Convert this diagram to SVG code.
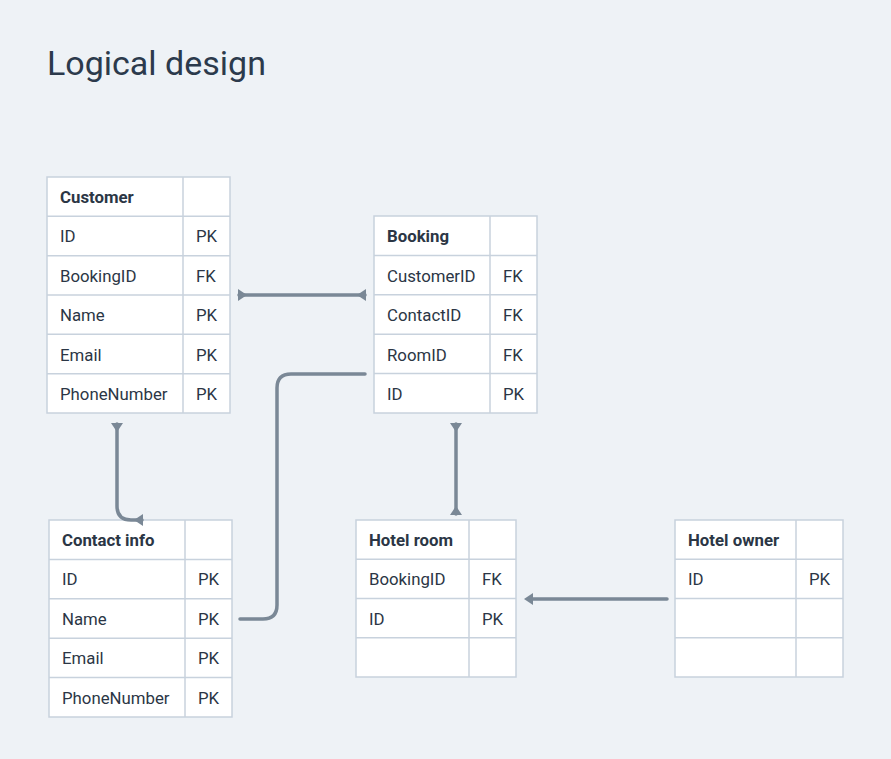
<svg xmlns="http://www.w3.org/2000/svg" width="891" height="759" viewBox="0 0 891 759">
<style>
.bg{fill:#eef2f6}
.tb{fill:#ffffff;stroke:#c8d2dd;stroke-width:1.5}
.ln{stroke:#c8d2dd;stroke-width:1.5}
text{font-family:Roboto,"Liberation Sans",sans-serif;fill:#2b3645;font-size:16.8px}
.h{font-weight:bold}
.title{font-size:34px;fill:#2c3a4c}
.cn{fill:none;stroke:#7a8896;stroke-width:3.5;stroke-linecap:round}
</style>
<defs>
<marker id="tee" viewBox="-9 -7 11 14" refX="0" refY="0" markerWidth="11" markerHeight="14" markerUnits="userSpaceOnUse" orient="auto-start-reverse">
<path d="M1,-6 L1,6 L-8,0 z" fill="#7a8896"/>
</marker>
<marker id="arr" viewBox="-2 -7 12 14" refX="0" refY="0" markerWidth="12" markerHeight="14" markerUnits="userSpaceOnUse" orient="auto">
<path d="M0,-6 L9,0 L0,6 z" fill="#7a8896"/>
</marker>
</defs>
<rect class="bg" x="0" y="0" width="891" height="759"/>
<text class="title" x="47" y="75">Logical design</text>

<g id="customer">
<rect class="tb" x="47" y="177" width="183" height="236"/>
<line class="ln" x1="183" y1="177" x2="183" y2="413"/>
<line class="ln" x1="47" y1="216.3" x2="230" y2="216.3"/>
<line class="ln" x1="47" y1="255.7" x2="230" y2="255.7"/>
<line class="ln" x1="47" y1="295" x2="230" y2="295"/>
<line class="ln" x1="47" y1="334.3" x2="230" y2="334.3"/>
<line class="ln" x1="47" y1="373.7" x2="230" y2="373.7"/>
<text class="h" x="60" y="203">Customer</text>
<text x="60" y="242">ID</text><text x="196" y="242">PK</text>
<text x="60" y="282">BookingID</text><text x="196" y="282">FK</text>
<text x="60" y="321">Name</text><text x="196" y="321">PK</text>
<text x="60" y="361">Email</text><text x="196" y="361">PK</text>
<text x="60" y="400">PhoneNumber</text><text x="196" y="400">PK</text>
</g>

<g id="booking">
<rect class="tb" x="374" y="216" width="163" height="197"/>
<line class="ln" x1="490" y1="216" x2="490" y2="413"/>
<line class="ln" x1="374" y1="255.4" x2="537" y2="255.4"/>
<line class="ln" x1="374" y1="294.8" x2="537" y2="294.8"/>
<line class="ln" x1="374" y1="334.2" x2="537" y2="334.2"/>
<line class="ln" x1="374" y1="373.6" x2="537" y2="373.6"/>
<text class="h" x="387" y="242">Booking</text>
<text x="387" y="282">CustomerID</text><text x="503" y="282">FK</text>
<text x="387" y="321">ContactID</text><text x="503" y="321">FK</text>
<text x="387" y="361">RoomID</text><text x="503" y="361">FK</text>
<text x="387" y="400">ID</text><text x="503" y="400">PK</text>
</g>

<g id="contact-info">
<rect class="tb" x="49" y="520" width="183" height="197"/>
<line class="ln" x1="185" y1="520" x2="185" y2="717"/>
<line class="ln" x1="49" y1="559.4" x2="232" y2="559.4"/>
<line class="ln" x1="49" y1="598.8" x2="232" y2="598.8"/>
<line class="ln" x1="49" y1="638.2" x2="232" y2="638.2"/>
<line class="ln" x1="49" y1="677.6" x2="232" y2="677.6"/>
<text class="h" x="62" y="546">Contact info</text>
<text x="62" y="585">ID</text><text x="198" y="585">PK</text>
<text x="62" y="625">Name</text><text x="198" y="625">PK</text>
<text x="62" y="664">Email</text><text x="198" y="664">PK</text>
<text x="62" y="704">PhoneNumber</text><text x="198" y="704">PK</text>
</g>

<g id="hotel-room">
<rect class="tb" x="356" y="520" width="160" height="157"/>
<line class="ln" x1="469" y1="520" x2="469" y2="677"/>
<line class="ln" x1="356" y1="559.3" x2="516" y2="559.3"/>
<line class="ln" x1="356" y1="598.5" x2="516" y2="598.5"/>
<line class="ln" x1="356" y1="637.8" x2="516" y2="637.8"/>
<text class="h" x="369" y="546">Hotel room</text>
<text x="369" y="585">BookingID</text><text x="482" y="585">FK</text>
<text x="369" y="625">ID</text><text x="482" y="625">PK</text>
</g>

<g id="hotel-owner">
<rect class="tb" x="675" y="520" width="168" height="157"/>
<line class="ln" x1="796" y1="520" x2="796" y2="677"/>
<line class="ln" x1="675" y1="559.3" x2="843" y2="559.3"/>
<line class="ln" x1="675" y1="598.5" x2="843" y2="598.5"/>
<line class="ln" x1="675" y1="637.8" x2="843" y2="637.8"/>
<text class="h" x="688" y="546">Hotel owner</text>
<text x="688" y="585">ID</text><text x="809" y="585">PK</text>
</g>

<g id="connectors">
<path class="cn" d="M239,295 H365" marker-start="url(#tee)" marker-end="url(#tee)"/>
<path class="cn" d="M117,424 V506 Q117,520 131,520 H142" marker-start="url(#tee)" marker-end="url(#tee)"/>
<path class="cn" d="M365,374 H291 Q277,374 277,388 V605 Q277,619 263,619 H240"/>
<path class="cn" d="M456,424 V514" marker-start="url(#tee)" marker-end="url(#tee)"/>
<path class="cn" d="M667,599 H533" marker-end="url(#arr)"/>
</g>
</svg>
